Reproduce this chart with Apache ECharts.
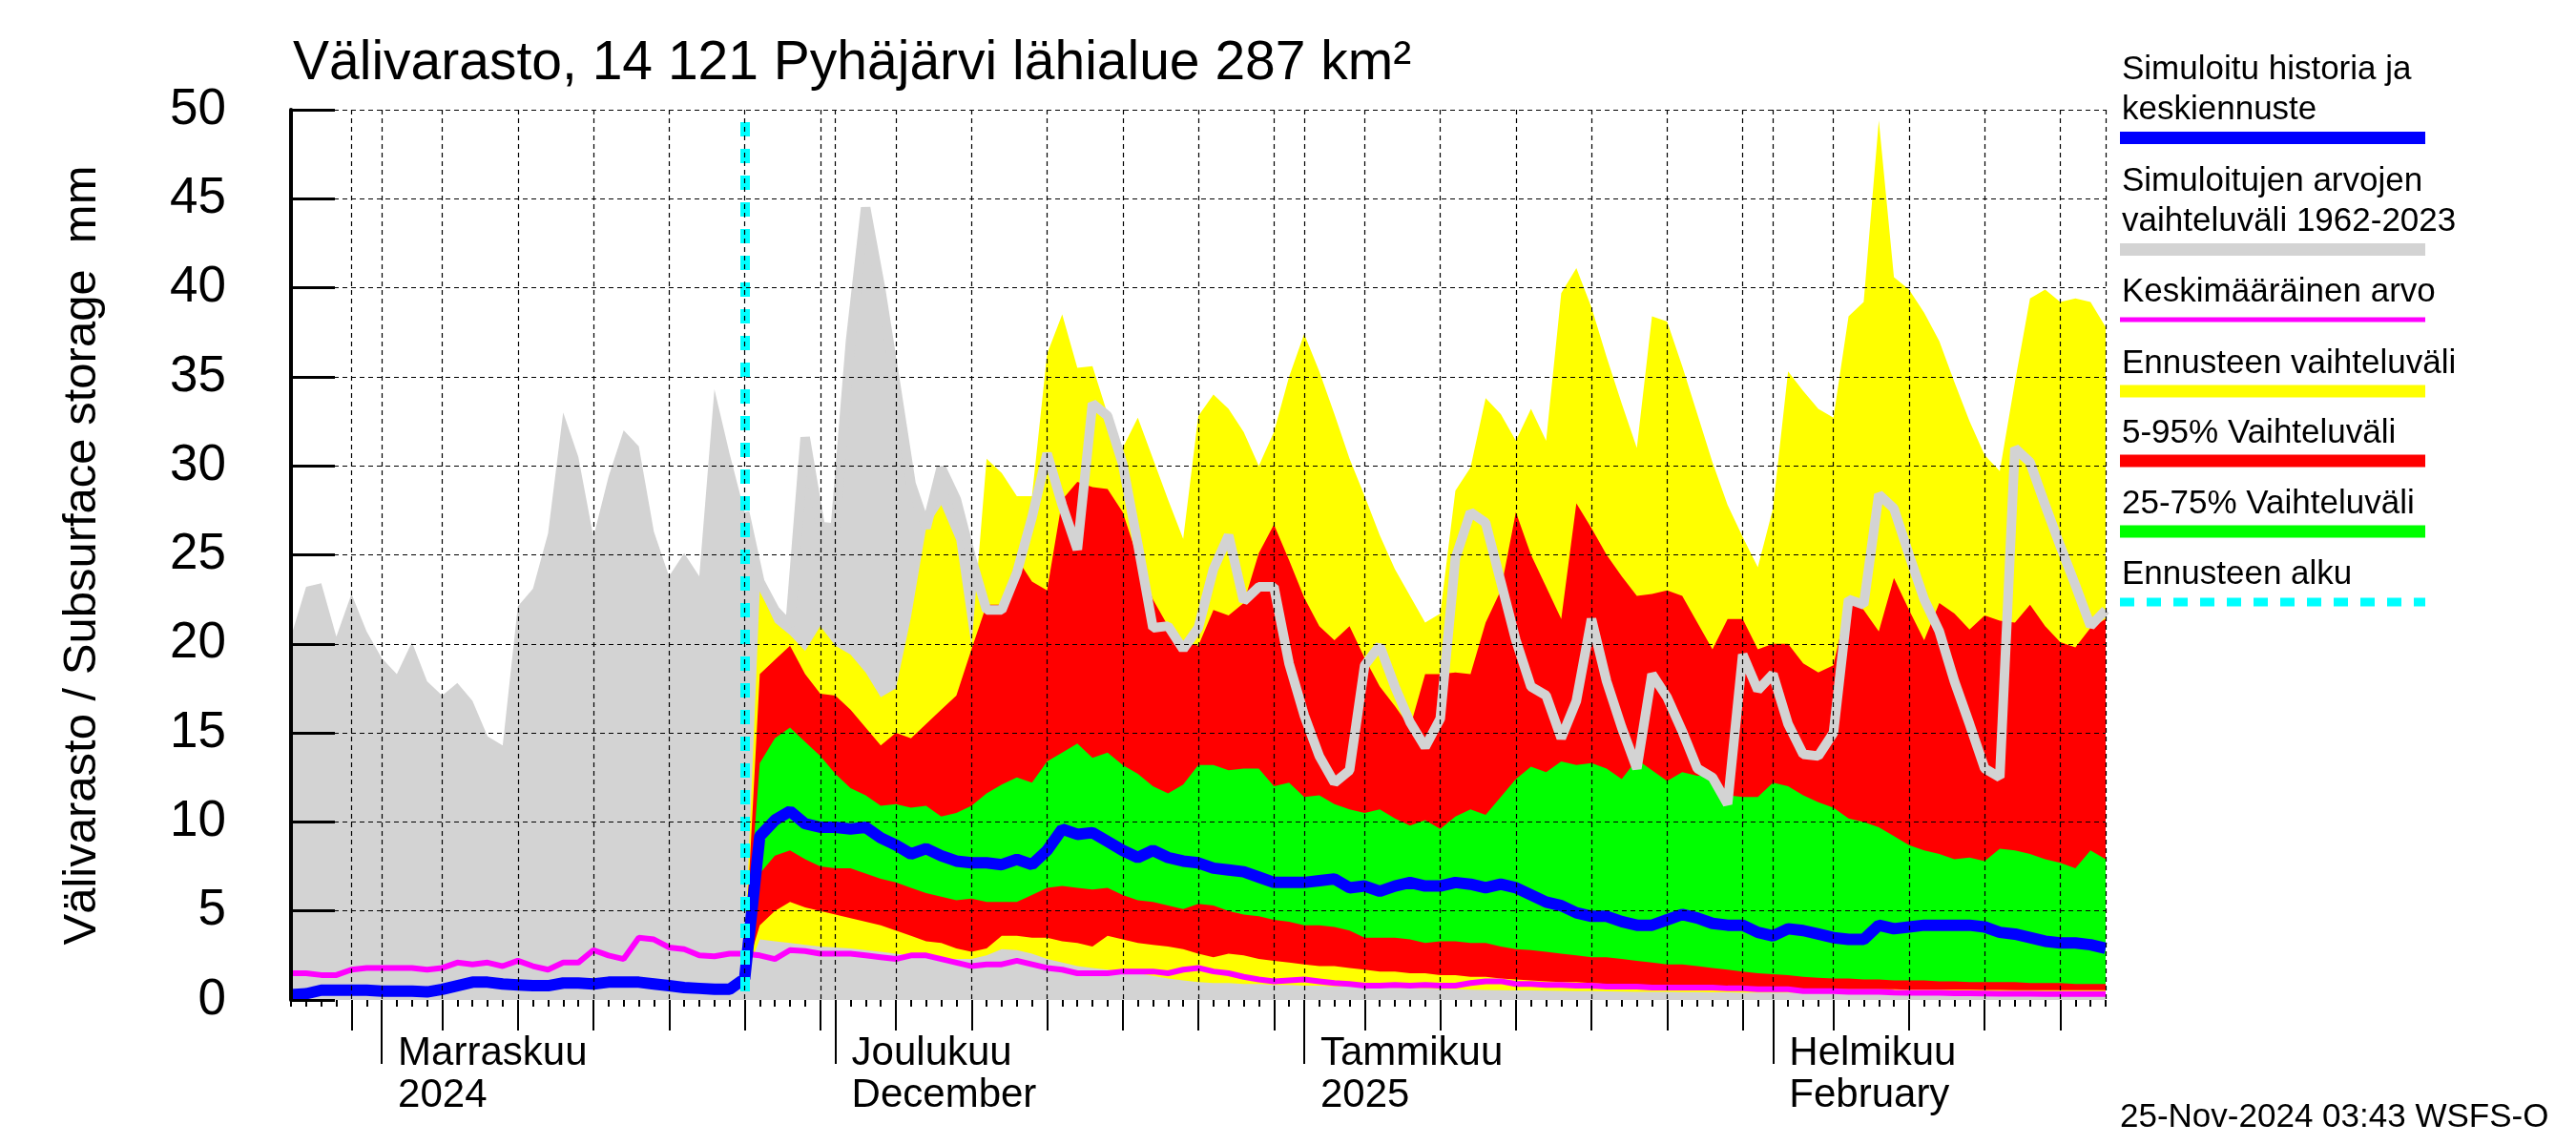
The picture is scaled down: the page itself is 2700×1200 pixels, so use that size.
<!DOCTYPE html>
<html>
<head>
<meta charset="utf-8">
<script src="https://cdn.jsdelivr.net/npm/echarts@6.0.0/dist/echarts.min.js"></script>
<style>
html,body{margin:0;padding:0;background:#fff;}
#chart{width:2700px;height:1200px;}
</style>
</head>
<body>
<div id="chart"></div>
<script>
// ---------- DATA ----------
const startDate = '2024-10-26';   // first day on the axis
const dayCount = 121;             // 26 Oct 2024 .. 23 Feb 2025
const forecastStart = '2024-11-25';

const monthLabels = {
  '2024-11-01': 'Marraskuu\n2024',
  '2024-12-01': 'Joulukuu\nDecember',
  '2025-01-01': 'Tammikuu\n2025',
  '2025-02-01': 'Helmikuu\nFebruary'
};
const yTicks = [0, 5, 10, 15, 20, 25, 30, 35, 40, 45, 50];

// Simuloitujen arvojen vaihteluväli 1962-2023 (upper edge), whole period
const histMax = [
  20.4, 23.2, 23.4, 20.4, 22.8, 20.7, 19.2, 18.3, 20.1, 17.9,
  17.1, 17.8, 16.8, 14.8, 14.3, 22.1, 23.1, 26.2, 33.0, 30.5,
  26.0, 29.4, 32.0, 31.1, 26.3, 23.8, 25.1, 23.8, 34.3, 30.7,
  27.4, 23.5, 21.9, 21.0, 31.6, 26.6, 26.5, 37.0, 44.5, 39.9,
  34.5, 29.0, 26.5, 29.9, 28.1, 24.8, 21.9, 21.9, 24.0, 27.1,
  30.7, 27.8, 25.3, 33.5, 32.8, 30.1, 25.6, 20.9, 21.0, 19.7,
  20.9, 24.2, 26.1, 22.4, 23.2, 23.2, 18.9, 16.0, 13.7, 12.2,
  12.9, 18.8, 19.9, 17.6, 15.6, 14.2, 15.8, 24.8, 27.4, 26.8,
  23.5, 20.2, 17.6, 17.1, 14.7, 16.8, 21.4, 17.9, 15.3, 13.0,
  18.3, 17.0, 15.1, 13.0, 12.5, 11.0, 19.4, 17.4, 18.3, 15.5,
  13.8, 13.7, 15.0, 22.5, 22.2, 28.4, 27.6, 25.0, 22.5, 20.7,
  17.9, 15.5, 13.0, 12.5, 31.0, 30.2, 27.8, 25.5, 23.3, 21.0,
  21.9
];

// Keskimääräinen arvo, whole period
const meanValue = [
  1.5, 1.5, 1.4, 1.4, 1.7, 1.8, 1.8, 1.8, 1.8, 1.7,
  1.8, 2.1, 2.0, 2.1, 1.9, 2.2, 1.9, 1.7, 2.1, 2.1,
  2.8, 2.5, 2.3, 3.5, 3.4, 2.95, 2.85, 2.5, 2.45, 2.6,
  2.6, 2.5, 2.3, 2.8, 2.75, 2.6, 2.6, 2.6, 2.5, 2.4,
  2.3, 2.5, 2.5, 2.3, 2.1, 1.9, 2.0, 2.0, 2.2, 2.0,
  1.8, 1.7, 1.5, 1.5, 1.5, 1.6, 1.6, 1.6, 1.5, 1.7,
  1.8, 1.6, 1.5, 1.3, 1.15, 1.05, 1.1, 1.15, 1.05, 0.95,
  0.9, 0.8, 0.8, 0.85, 0.8, 0.85, 0.8, 0.8, 0.95, 1.05,
  1.05, 0.9, 0.9, 0.85, 0.85, 0.8, 0.8, 0.75, 0.75, 0.75,
  0.7, 0.7, 0.7, 0.7, 0.7, 0.65, 0.65, 0.6, 0.6, 0.6,
  0.5, 0.5, 0.5, 0.45, 0.45, 0.45, 0.42, 0.4, 0.4, 0.4,
  0.38, 0.37, 0.36, 0.35, 0.35, 0.35, 0.34, 0.33, 0.33, 0.33,
  0.33
];

// Simuloitu historia ja keskiennuste, whole period
const medianValue = [
  0.3, 0.35, 0.55, 0.55, 0.55, 0.55, 0.5, 0.5, 0.5, 0.45,
  0.6, 0.8, 1.0, 1.0, 0.9, 0.85, 0.8, 0.8, 0.95, 0.95,
  0.9, 1.0, 1.0, 1.0, 0.9, 0.8, 0.7, 0.65, 0.6, 0.6,
  1.2, 9.2, 10.1, 10.6, 9.9, 9.7, 9.7, 9.6, 9.7, 9.1,
  8.7, 8.2, 8.5, 8.1, 7.8, 7.7, 7.7, 7.6, 7.9, 7.6,
  8.4, 9.6, 9.3, 9.4, 8.9, 8.4, 8.0, 8.4, 8.0, 7.8,
  7.7, 7.4, 7.3, 7.2, 6.9, 6.6, 6.6, 6.6, 6.7, 6.8,
  6.3, 6.4, 6.1, 6.4, 6.6, 6.4, 6.4, 6.6, 6.5, 6.3,
  6.5, 6.3, 5.9, 5.5, 5.3, 4.9, 4.7, 4.7, 4.4, 4.2,
  4.2, 4.5, 4.8, 4.6, 4.3, 4.2, 4.2, 3.8, 3.6, 4.0,
  3.9, 3.7, 3.5, 3.4, 3.4, 4.2, 4.0, 4.1, 4.2, 4.2,
  4.2, 4.2, 4.1, 3.8, 3.7, 3.5, 3.3, 3.2, 3.2, 3.1,
  2.9
];

// Forecast ranges, from forecastStart to the last day (91 values)
const yellowMax = [
  2.5, 23.0, 21.2, 20.5, 19.6, 21.0, 19.9, 19.4, 18.4, 17.0,
  17.5, 21.5, 26.5, 27.8, 25.8, 19.9, 30.4, 29.6, 28.3, 28.3,
  36.3, 38.5, 35.5, 35.6, 32.9, 31.0, 32.7, 30.4, 28.1, 25.9,
  32.8, 34.0, 33.2, 31.9, 30.0, 31.9, 35.0, 37.4, 35.3, 32.9,
  30.4, 28.3, 26.1, 24.2, 22.7, 21.2, 21.7, 28.6, 29.9, 33.8,
  32.9, 31.4, 33.2, 31.4, 39.7, 41.1, 38.9, 36.1, 33.5, 31.0,
  38.4, 38.1, 35.6, 32.9, 30.2, 27.8, 26.0, 24.3, 27.6, 35.3,
  34.2, 33.2, 32.7, 38.4, 39.2, 49.4, 40.6, 39.9, 38.6, 37.0,
  34.7, 32.5, 30.6, 29.7, 34.7, 39.4, 39.9, 39.2, 39.4, 39.2,
  37.8
];
const yellowMin = [
  1.2, 3.4, 3.3, 3.2, 3.1, 3.0, 2.95, 2.9, 2.8, 2.7,
  2.6, 2.5, 2.4, 2.3, 2.3, 2.3, 2.5, 2.85, 2.8, 2.6,
  2.3, 2.1, 1.9, 1.8, 1.7, 1.6, 1.5, 1.35, 1.2, 1.1,
  1.0, 0.95, 0.95, 0.9, 0.9, 0.85, 0.85, 0.8, 0.8, 0.75,
  0.75, 0.72, 0.7, 0.68, 0.66, 0.64, 0.62, 0.6, 0.58, 0.56,
  0.55, 0.54, 0.53, 0.52, 0.51, 0.5, 0.49, 0.48, 0.47, 0.46,
  0.45, 0.45, 0.44, 0.44, 0.43, 0.43, 0.42, 0.42, 0.41, 0.41,
  0.4, 0.4, 0.4, 0.4, 0.4, 0.4, 0.4, 0.4, 0.4, 0.4,
  0.39, 0.39, 0.39, 0.38, 0.38, 0.38, 0.38, 0.37, 0.37, 0.37,
  0.37
];
const redMax = [
  2.2, 18.3, 19.1, 19.9, 18.3, 17.2, 17.1, 16.3, 15.3, 14.3,
  15.0, 14.7, 15.5, 16.3, 17.1, 19.7, 22.2, 22.2, 24.8, 23.5,
  23.0, 28.1, 29.1, 28.8, 28.7, 27.4, 24.8, 22.5, 21.0, 20.1,
  19.9, 21.9, 21.6, 22.3, 25.1, 26.7, 24.7, 22.6, 21.0, 20.2,
  21.0, 19.2, 17.6, 16.5, 15.3, 18.3, 18.3, 18.4, 18.3, 21.2,
  23.0, 27.4, 25.0, 23.2, 21.4, 27.9, 26.5, 25.0, 23.8, 22.7,
  22.8, 23.0, 22.7, 21.2, 19.7, 21.4, 21.4, 19.7, 20.0, 20.0,
  18.9, 18.4, 18.8, 22.6, 21.9, 20.7, 23.7, 21.9, 20.2, 22.3,
  21.7, 20.8, 21.6, 21.3, 21.2, 22.2, 21.0, 20.1, 19.8, 20.9,
  21.4
];
const redMin = [
  1.4, 4.2, 5.0, 5.5, 5.2, 5.0, 4.8, 4.6, 4.4, 4.2,
  3.9, 3.6, 3.3, 3.2, 2.9, 2.7, 2.9, 3.6, 3.6, 3.5,
  3.5, 3.3, 3.2, 3.0, 3.6, 3.4, 3.2, 3.1, 3.0, 2.85,
  2.6, 2.4, 2.6, 2.5, 2.3, 2.2, 2.1, 2.0, 1.9, 1.9,
  1.8, 1.7, 1.6, 1.6, 1.5, 1.5, 1.4, 1.4, 1.3, 1.3,
  1.2, 1.15, 1.1, 1.05, 1.0, 1.0, 0.95, 0.9, 0.9, 0.85,
  0.85, 0.8, 0.8, 0.75, 0.75, 0.7, 0.7, 0.65, 0.65, 0.6,
  0.6, 0.6, 0.6, 0.6, 0.6, 0.6, 0.6, 0.58, 0.58, 0.58,
  0.57, 0.57, 0.56, 0.56, 0.55, 0.55, 0.55, 0.55, 0.55, 0.55,
  0.55
];
const greenMax = [
  2.0, 13.3, 14.7, 15.3, 14.5, 13.7, 12.7, 11.9, 11.5, 10.9,
  11.0, 10.8, 10.9, 10.3, 10.5, 10.9, 11.6, 12.1, 12.5, 12.2,
  13.4, 13.9, 14.4, 13.6, 13.9, 13.2, 12.7, 12.0, 11.6, 12.1,
  13.2, 13.2, 12.9, 13.0, 13.0, 12.0, 12.2, 11.4, 11.5, 11.0,
  10.7, 10.5, 10.7, 10.2, 9.8, 10.1, 9.6, 10.3, 10.7, 10.4,
  11.4, 12.4, 13.1, 12.8, 13.4, 13.2, 13.3, 13.0, 12.4, 13.5,
  12.9, 12.3, 12.8, 12.6, 12.6, 11.5, 11.4, 11.4, 12.2, 12.0,
  11.5, 11.1, 10.8, 10.2, 10.0, 9.7, 9.2, 8.7, 8.4, 8.2,
  7.9, 8.0, 7.8, 8.5, 8.4, 8.2, 7.9, 7.7, 7.4, 8.4,
  7.9
];
const greenMin = [
  1.6, 7.1, 8.1, 8.4, 7.9, 7.5, 7.4, 7.4, 7.1, 6.8,
  6.6, 6.3, 6.0, 5.8, 5.6, 5.7, 5.5, 5.5, 5.5, 5.9,
  6.3, 6.4, 6.3, 6.2, 6.3, 5.9, 5.6, 5.5, 5.3, 5.1,
  5.4, 5.3, 5.0, 4.8, 4.7, 4.5, 4.4, 4.2, 4.2, 4.1,
  3.9, 3.5, 3.5, 3.5, 3.4, 3.2, 3.3, 3.3, 3.2, 3.2,
  3.0, 2.85, 2.8, 2.7, 2.6, 2.5, 2.4, 2.4, 2.3, 2.2,
  2.1, 2.0, 2.0, 1.9, 1.8, 1.7, 1.6, 1.5, 1.45, 1.4,
  1.3, 1.25, 1.2, 1.2, 1.15, 1.15, 1.1, 1.1, 1.1, 1.05,
  1.05, 1.0, 1.0, 1.0, 1.0, 0.95, 0.95, 0.95, 0.9, 0.9,
  0.9
];

// ---------- BUILD ----------
const dates = [];
{
  const t0 = Date.parse(startDate + 'T00:00:00Z');
  for (let i = 0; i < dayCount; i++) dates.push(new Date(t0 + i * 86400000).toISOString().slice(0, 10));
}
const fIdx = dates.indexOf(forecastStart);
const pad = arr => dates.map((d, i) => (i < fIdx ? '-' : arr[i - fIdx]));
const diff = (hi, lo) => hi.map((v, i) => +(v - lo[i]).toFixed(3));
const dayOf = d => +d.slice(8, 10);
const gridDays = [1, 5, 10, 15, 20, 25, 30];

const FONT = "'Liberation Sans', Arial, Helvetica, sans-serif";
const GL = 305, GR = 2207, GT = 115, GB = 1048;
const MID = 0.3465; // canvas 'middle' offset above the baseline, in em

function band(name, lo, hi, color) {
  return [
    { name: name + '_base', type: 'line', stack: name, data: pad(lo), symbol: 'none',
      lineStyle: { width: 0, opacity: 0 }, silent: true },
    { name: name, type: 'line', stack: name, data: pad(diff(hi, lo)), symbol: 'none',
      lineStyle: { width: 0, opacity: 0 }, areaStyle: { color: color, opacity: 1 }, silent: true }
  ];
}

function txt(s, x, baseline, size, extra) {
  return Object.assign({ type: 'text', x: x, y: baseline - MID * size,
    style: { text: s, font: size + 'px ' + FONT, fill: '#000', align: 'left', verticalAlign: 'middle' } }, extra || {});
}

const xCommon = {
  type: 'category', data: dates, boundaryGap: false, position: 'bottom',
  axisLine: { show: false, onZero: false }, z: 10
};
const gridDash = { color: '#000', width: 1.2, type: [5, 4] };

const option = {
  animation: false,
  backgroundColor: '#ffffff',
  grid: { left: GL, right: 2700 - GR, top: GT, bottom: 1200 - GB, containLabel: false },
  xAxis: [
    Object.assign({}, xCommon, {
      axisTick: { show: true, interval: 0, length: 7, lineStyle: { color: '#000', width: 2 } },
      axisLabel: { show: false },
      splitLine: {
        show: true,
        interval: (i, v) => gridDays.includes(dayOf(v)) || i === dayCount - 1,
        lineStyle: gridDash
      }
    }),
    Object.assign({}, xCommon, {
      axisTick: { show: true, interval: (i, v) => gridDays.includes(dayOf(v)), length: 32, lineStyle: { color: '#000', width: 2 } },
      axisLabel: { show: false }, splitLine: { show: false }
    }),
    Object.assign({}, xCommon, {
      axisTick: { show: true, interval: (i, v) => dayOf(v) === 1, length: 67, lineStyle: { color: '#000', width: 2 } },
      axisLabel: {
        show: true, interval: (i, v) => dayOf(v) === 1,
        formatter: v => monthLabels[v] || '',
        align: 'left', margin: 34, padding: [0, 0, 0, 17],
        fontFamily: FONT, fontSize: 42, lineHeight: 44, color: '#000'
      },
      splitLine: { show: false }
    })
  ],
  yAxis: {
    type: 'value', min: yTicks[0], max: yTicks[yTicks.length - 1], interval: 5, z: 10,
    axisLine: { show: true, lineStyle: { color: '#000', width: 4 } },
    axisTick: { show: true, inside: true, length: 46, lineStyle: { color: '#000', width: 3 } },
    axisLabel: { fontFamily: FONT, fontSize: 53, color: '#000', margin: 68, padding: [0, 0, 14, 0] },
    splitLine: { show: true, lineStyle: Object.assign({}, gridDash, { color: ['rgba(0,0,0,0)', '#000', '#000', '#000', '#000', '#000', '#000', '#000', '#000', '#000', '#000'] }) }
  },
  series: [
    { name: 'hist', type: 'line', data: histMax, symbol: 'none', silent: true,
      lineStyle: { width: 0, opacity: 0 }, areaStyle: { color: '#d3d3d3', opacity: 1 } },
    ...band('yellow', yellowMin, yellowMax, '#ffff00'),
    ...band('red', redMin, redMax, '#ff0000'),
    ...band('green', greenMin, greenMax, '#00ff00'),
    { name: 'histLine', type: 'line', data: histMax.map((v, i) => (i < fIdx ? '-' : v)), symbol: 'none', silent: true,
      lineStyle: { color: '#d3d3d3', width: 10 } },
    { name: 'mean', type: 'line', data: meanValue, symbol: 'none', silent: true,
      lineStyle: { color: '#ff00ff', width: 6 } },
    { name: 'median', type: 'line', data: medianValue, symbol: 'none', silent: true,
      lineStyle: { color: '#0000ff', width: 12 } },
    { name: 'fstart', type: 'line', data: dates.map(() => '-'), symbol: 'none', silent: true,
      markLine: { symbol: ['none', 'none'], silent: true, label: { show: false },
        lineStyle: { color: '#00ffff', width: 10, type: [15, 13] },
        data: [[{ xAxis: forecastStart, yAxis: 49.3 }, { xAxis: forecastStart, yAxis: 0.2 }]] } }
  ],
  graphic: [
    txt('Välivarasto, 14 121 Pyhäjärvi lähialue 287 km²', 307, 87, 57),
    { type: 'text', x: 86, y: 582, rotation: Math.PI / 2,
      style: { text: 'Välivarasto / Subsurface storage  mm', font: '49px ' + FONT, fill: '#000', align: 'center', verticalAlign: 'middle' } },
    txt('25-Nov-2024 03:43 WSFS-O', 2222, 1183, 35)
  ]
};

// legend drawn as graphics
const legendItems = [
  { lines: ['Simuloitu historia ja', 'keskiennuste'], color: '#0000ff', h: 13, y: 85 },
  { lines: ['Simuloitujen arvojen', 'vaihteluväli 1962-2023'], color: '#d3d3d3', h: 13, y: 202 },
  { lines: ['Keskimääräinen arvo'], color: '#ff00ff', h: 5, y: 318 },
  { lines: ['Ennusteen vaihteluväli'], color: '#ffff00', h: 13, y: 393 },
  { lines: ['5-95% Vaihteluväli'], color: '#ff0000', h: 13, y: 466 },
  { lines: ['25-75% Vaihteluväli'], color: '#00ff00', h: 13, y: 540 },
  { lines: ['Ennusteen alku'], color: '#00ffff', h: 9, y: 614, dashed: true }
];
const LX = 2222, LW = 320;
legendItems.forEach(it => {
  it.lines.forEach((t, k) => {
    option.graphic.push(txt(t, LX + 2, it.y + k * 42.5, 35));
  });
  const cy = it.y + (it.lines.length - 1) * 42.5 + 17;
  if (it.dashed) {
    option.graphic.push({ type: 'line', shape: { x1: LX, y1: cy, x2: LX + LW, y2: cy },
      style: { stroke: it.color, lineWidth: it.h, lineDash: [15, 13] } });
  } else {
    option.graphic.push({ type: 'rect', shape: { x: LX, y: cy - it.h / 2, width: LW, height: it.h },
      style: { fill: it.color } });
  }
});

const chart = echarts.init(document.getElementById('chart'), null, { renderer: 'canvas', width: 2700, height: 1200 });
chart.setOption(option);
</script>
</body>
</html>
